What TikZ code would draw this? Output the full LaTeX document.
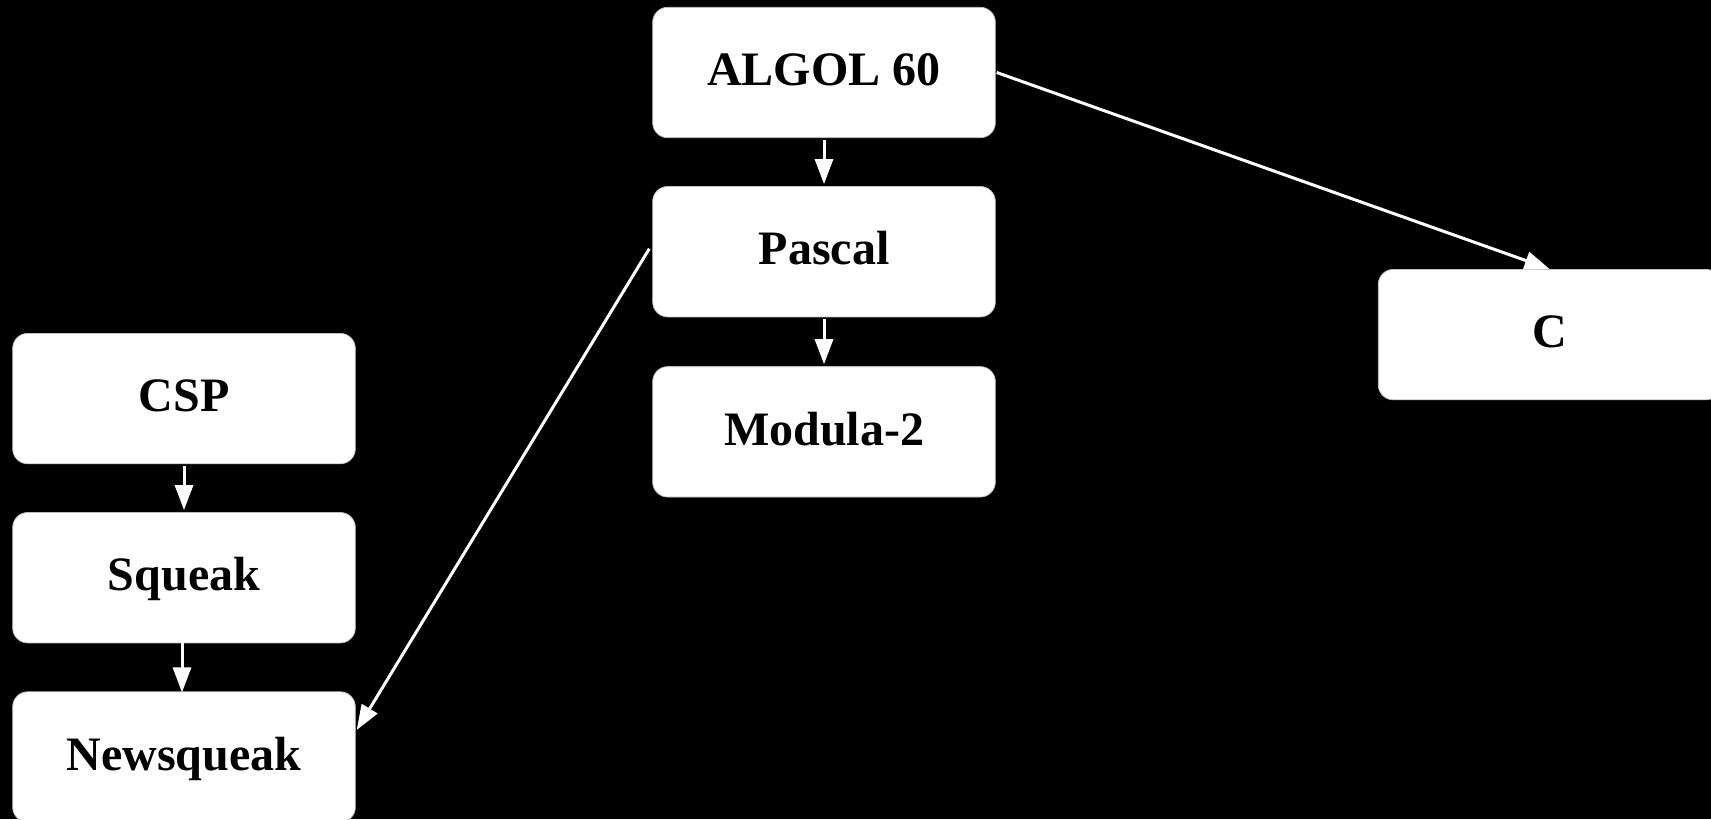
\documentclass[tikz,border=0pt]{standalone}
\usepackage{fontspec}
\setmainfont{Liberation Serif}
\usetikzlibrary{arrows.meta}
\begin{document}
\begin{tikzpicture}[x=0.5pt,y=-0.5pt,
  lang/.style={rectangle, rounded corners=7.5pt, fill=white, draw=black!25, line width=0.4pt,
    minimum width=171.3pt, minimum height=65.2pt, inner sep=0pt,
    font=\fontsize{24}{28}\selectfont\bfseries, text=black,
    text height=16.2pt, text depth=3pt},
  link/.style={draw=white, line width=1.5pt,
    -{Triangle[length=12.5pt,width=9pt]}}]
  % black page
  \fill[black] (0,0) rectangle (1711,819);
  \useasboundingbox (0,0) rectangle (1711,819);
  \begin{scope}
    \clip (0,0) rectangle (1711,819);
    % language boxes
    \node[lang] (algol)  at (824,72.5)    {ALGOL 60};
    \node[lang] (pascal) at (824,251.7)   {Pascal};
    \node[lang] (modula) at (824,431.8)   {Modula-2};
    \node[lang] (c)      at (1549.6,334.6) {C};
    \node[lang] (csp)    at (184,398.6)   {CSP};
    \node[lang] (squeak) at (184,577.7)   {Squeak};
    \node[lang] (news)   at (184,757)     {Newsqueak};
    % lineage arrows
    \draw[link] ([yshift=-1pt]algol.south) -- ([yshift=1pt]pascal.north);
    \draw[link] ([yshift=-1pt]pascal.south) -- ([yshift=1pt]modula.north);
    \draw[link] ([yshift=-1pt]csp.south) -- ([yshift=1pt]squeak.north);
    \draw[link] ([shift={(-2,-1)}]squeak.south) -- ([shift={(-2,1)}]news.north);
    \draw[link] ([xshift=0.5pt]algol.east) -- (c.north);
    \draw[link] ([shift={(-3,-3)}]pascal.west) -- ([shift={(1,-27)}]news.east);
  \end{scope}
\end{tikzpicture}
\end{document}
